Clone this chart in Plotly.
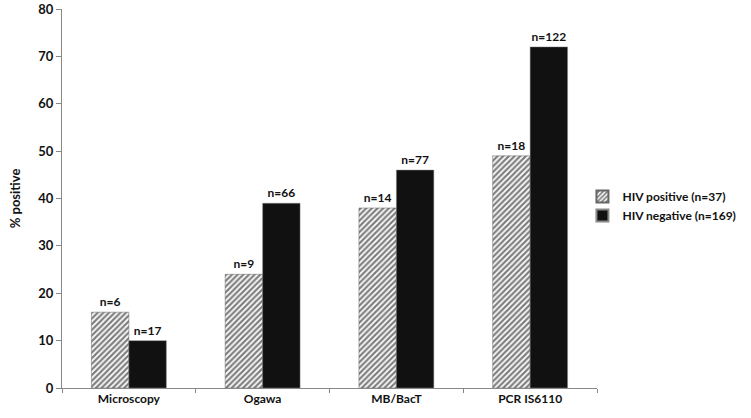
import plotly.graph_objects as go

categories = ["Microscopy", "Ogawa", "MB/BacT", "PCR IS6110"]
hiv_pos = [16, 24, 38, 49]
hiv_neg = [10, 39, 46, 72]
pos_n = ["n=6", "n=9", "n=14", "n=18"]
neg_n = ["n=17", "n=66", "n=77", "n=122"]

FONT = "Lato"

fig = go.Figure()
fig.add_trace(go.Bar(
    x=categories, y=hiv_pos, name="HIV positive (n=37)",
    text=pos_n, textposition="outside", cliponaxis=False,
    marker=dict(color="white", line=dict(color="#666", width=0.5),
                pattern=dict(shape="/", fgcolor="#000", bgcolor="white",
                             size=4, solidity=0.55)),
))
fig.add_trace(go.Bar(
    x=categories, y=hiv_neg, name="HIV negative (n=169)",
    text=neg_n, textposition="outside", cliponaxis=False,
    marker=dict(color="#111", line=dict(color="#888", width=0.5)),
))

fig.update_traces(textfont=dict(family=FONT, size=12, color="#111", weight="bold"),
                  textangle=0)

fig.update_layout(
    width=751, height=418,
    margin=dict(l=62, r=151, t=9, b=30),
    plot_bgcolor="white", paper_bgcolor="white",
    barmode="group", bargap=0.44, bargroupgap=0,
    font=dict(family=FONT, size=12, color="#111"),
    showlegend=True,
    legend=dict(x=1.27, y=0.48, yanchor="middle", xanchor="right",
                font=dict(family=FONT, size=12, weight="bold"),
                itemwidth=30, itemsizing="constant", tracegroupgap=4,
                borderwidth=0),
    yaxis=dict(range=[0, 80], dtick=10, showgrid=False, showline=True,
               linecolor="#888", linewidth=1, ticks="outside", ticklen=5,
               tickcolor="#888", zeroline=False, automargin=False,
               tickfont=dict(family=FONT, size=13, weight="bold"),
               title=dict(text="% positive", standoff=14,
                          font=dict(family=FONT, size=13, weight="bold"))),
    xaxis=dict(showgrid=False, showline=True, linecolor="#888", linewidth=1,
               ticks="outside", tickson="boundaries", ticklen=4,
               tickcolor="#888", automargin=False,
               tickfont=dict(family=FONT, size=12, weight="bold")),
)

# drop the default 8px page margin so the figure sits at the window corner
fig.write_html("out.html", config={"displayModeBar": False},
               post_script="document.body.style.margin='0';")
